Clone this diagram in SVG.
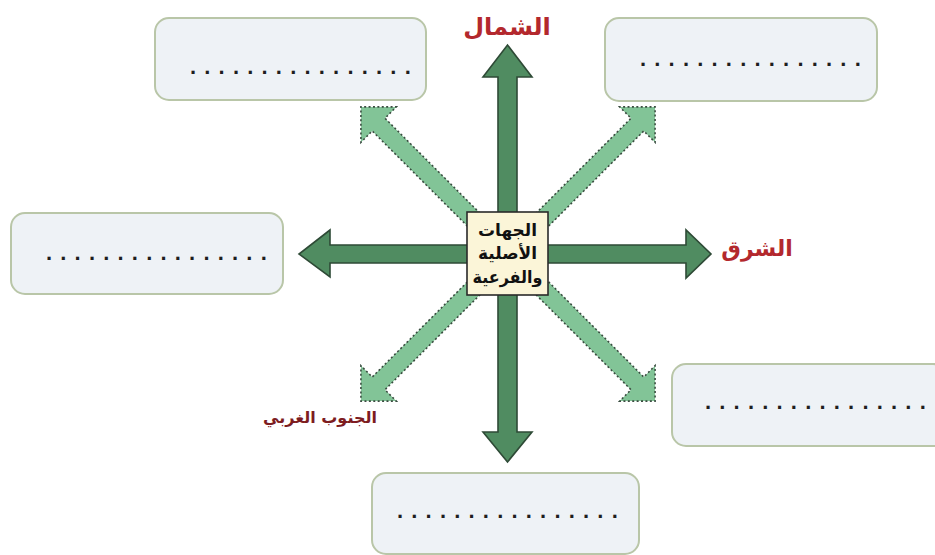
<svg xmlns="http://www.w3.org/2000/svg" width="935" height="555" viewBox="0 0 935 555">
  <style>
    .box { fill: #eef2f6; stroke: #b9c6a8; stroke-width: 2; }
    .dots { font-family: "Liberation Sans", sans-serif; font-weight: bold; font-size: 22px; fill: #1e1e1e; letter-spacing: 8.2px; }
    .main { fill: #508c61; stroke: #2e4a36; stroke-width: 1.6; stroke-linejoin: miter; }
    .sub { fill: #82c497; stroke: #3a4d40; stroke-width: 1.6; stroke-dasharray: 2 2.4; }
    .dir { font-family: "DejaVu Sans", sans-serif; font-weight: bold; fill: #b3282d; text-anchor: middle; }
    .center-text { font-family: "DejaVu Sans", sans-serif; font-weight: bold; font-size: 17px; fill: #111; text-anchor: middle; }
  </style>
  <defs>
    <path id="diag" d="M0,-9 L183,-9 L183,-25 L208,0 L183,25 L183,9 L0,9 Z"/>
  </defs>
  <rect width="935" height="555" fill="#ffffff"/>

  <g id="connectors">
    <use href="#diag" class="sub" transform="translate(508,254) rotate(-135)"/>
    <use href="#diag" class="sub" transform="translate(508,254) rotate(-45)"/>
    <use href="#diag" class="sub" transform="translate(508,254) rotate(135)"/>
    <use href="#diag" class="sub" transform="translate(508,254) rotate(45)"/>
    <path class="main" d="M498,77 L483,77 L507.5,45 L532,77 L517,77 L517,432 L532,432 L507.5,462 L483,432 L498,432 Z"/>
    <path class="main" d="M330,245 L330,230 L299,254 L330,277 L330,263 L686,263 L686,278 L711,254 L686,230 L686,245 Z"/>
  </g>

  <g id="center">
    <rect x="467" y="212" width="81" height="83" fill="#fbf5d8" stroke="#2a2a2a" stroke-width="1.6"/>
    <text class="center-text" x="507.5" y="236">الجهات</text>
    <text class="center-text" x="507.5" y="259">الأصلية</text>
    <text class="center-text" x="507.5" y="283" textLength="70" lengthAdjust="spacingAndGlyphs">والفرعية</text>
  </g>

  <g id="label-north"><text class="dir" x="507" y="35" font-size="24">الشمال</text></g>
  <g id="label-east"><text class="dir" x="757" y="256" font-size="22">الشرق</text></g>
  <g id="label-southwest"><text class="dir" x="320" y="423" font-size="16" style="fill:#7d1c1f">الجنوب الغربي</text></g>

  <g id="box-northwest">
    <rect class="box" x="155" y="18" width="271" height="82" rx="14"/>
    <text class="dots" x="190" y="74">................</text>
  </g>
  <g id="box-northeast">
    <rect class="box" x="605" y="18" width="272" height="83" rx="14"/>
    <text class="dots" x="640" y="66">................</text>
  </g>
  <g id="box-west">
    <rect class="box" x="11" y="213" width="272" height="81" rx="14"/>
    <text class="dots" x="46" y="260">................</text>
  </g>
  <g id="box-southeast">
    <rect class="box" x="672" y="364" width="275" height="82" rx="14"/>
    <text class="dots" x="705" y="409">................</text>
  </g>
  <g id="box-south">
    <rect class="box" x="372" y="473" width="267" height="81" rx="14"/>
    <text class="dots" x="397" y="518">................</text>
  </g>
</svg>
